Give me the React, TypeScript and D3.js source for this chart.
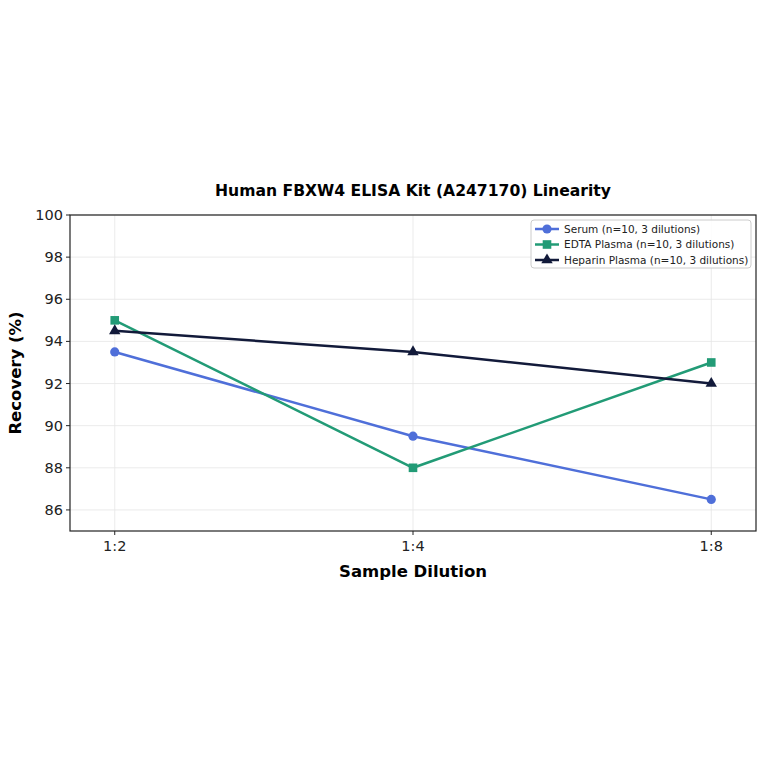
import * as d3 from 'd3';

const dilutions = ['1:2', '1:4', '1:8'];
const serum = [93.5, 89.5, 86.5];
const edta = [95.0, 88.0, 93.0];
const heparin = [94.5, 93.5, 92.0];
const yTicks = [86, 88, 90, 92, 94, 96, 98, 100];

const seriesList = [
  { id: 'serum', label: 'Serum (n=10, 3 dilutions)', color: '#4f6fd9', marker: 'circle', values: serum },
  { id: 'edta', label: 'EDTA Plasma (n=10, 3 dilutions)', color: '#229b76', marker: 'square', values: edta },
  { id: 'heparin', label: 'Heparin Plasma (n=10, 3 dilutions)', color: '#121a3a', marker: 'triangle', values: heparin },
];

const W = 764;
const H = 764;
const margin = { top: 215, right: 8, bottom: 233, left: 70 };
const font = 'DejaVu Sans, sans-serif';

function Marker({ kind, x, y, color }: { kind: string; x: number; y: number; color: string }) {
  if (kind === 'circle') return <circle cx={x} cy={y} r={4.6} fill={color} />;
  if (kind === 'square') return <rect x={x - 4.3} y={y - 4.3} width={8.6} height={8.6} fill={color} />;
  const sym = d3.symbol(d3.symbolTriangle, 56)();
  return <path d={sym ?? ''} transform={`translate(${x},${y})`} fill={color} />;
}

export default function App() {
  const x0 = margin.left;
  const x1 = W - margin.right;
  const y0 = margin.top;
  const y1 = H - margin.bottom;

  const xScale = d3.scaleLinear().domain([-0.15, 2.15]).range([x0, x1]);
  const yScale = d3.scaleLinear().domain([85, 100]).range([y1, y0]);

  const line = d3
    .line<number>()
    .x((_, i) => xScale(i))
    .y((v) => yScale(v));

  const legendX = 531;
  const legendY = 220;

  return (
    <svg width={W} height={H} style={{ position: 'absolute', left: 0, top: 0, background: '#fff' }} fontFamily={font}>
      <text x={(x0 + x1) / 2} y={196} textAnchor="middle" fontSize={15.6} fontWeight="bold">
        Human FBXW4 ELISA Kit (A247170) Linearity
      </text>

      {/* grid */}
      {yTicks.map((t) => (
        <line key={`gy-${t}`} x1={x0} x2={x1} y1={yScale(t)} y2={yScale(t)} stroke="#e6e6e6" strokeWidth={0.8} />
      ))}
      {dilutions.map((d, i) => (
        <line key={`gx-${d}`} x1={xScale(i)} x2={xScale(i)} y1={y0} y2={y1} stroke="#e6e6e6" strokeWidth={0.8} />
      ))}

      {/* series */}
      {seriesList.map((s) => (
        <g key={s.id}>
          <path d={line(s.values) ?? ''} fill="none" stroke={s.color} strokeWidth={2.5} />
          {s.values.map((v, i) => (
            <Marker key={i} kind={s.marker} x={xScale(i)} y={yScale(v)} color={s.color} />
          ))}
        </g>
      ))}

      {/* frame */}
      <rect x={x0} y={y0} width={x1 - x0} height={y1 - y0} fill="none" stroke="#222" strokeWidth={1.2} />

      {/* y ticks */}
      {yTicks.map((t) => (
        <g key={`yt-${t}`}>
          <line x1={x0 - 4} x2={x0} y1={yScale(t)} y2={yScale(t)} stroke="#222" />
          <text x={x0 - 7} y={yScale(t)} dy="0.35em" textAnchor="end" fontSize={14.5} fill="#222">
            {t}
          </text>
        </g>
      ))}

      {/* x ticks */}
      {dilutions.map((d, i) => (
        <g key={`xt-${d}`}>
          <line x1={xScale(i)} x2={xScale(i)} y1={y1} y2={y1 + 4} stroke="#222" />
          <text x={xScale(i)} y={y1 + 20} textAnchor="middle" fontSize={14.5} fill="#222">
            {d}
          </text>
        </g>
      ))}

      <text x={(x0 + x1) / 2} y={577} textAnchor="middle" fontSize={16.5} fontWeight="bold">
        Sample Dilution
      </text>
      <text
        transform={`translate(21,${(y0 + y1) / 2}) rotate(-90)`}
        textAnchor="middle"
        fontSize={16.5}
        fontWeight="bold"
      >
        Recovery (%)
      </text>

      {/* legend */}
      <rect x={legendX} y={legendY} width={220} height={48} rx={3} fill="#fff" fillOpacity={0.85} stroke="#ccc" />
      {seriesList.map((s, i) => {
        const ly = legendY + 9 + i * 15.5;
        return (
          <g key={`lg-${s.id}`}>
            <line x1={legendX + 4} x2={legendX + 28} y1={ly} y2={ly} stroke={s.color} strokeWidth={2.5} />
            <Marker kind={s.marker} x={legendX + 16} y={ly} color={s.color} />
            <text x={legendX + 33} y={ly} dy="0.35em" fontSize={10.5} fill="#222">
              {s.label}
            </text>
          </g>
        );
      })}
    </svg>
  );
}
